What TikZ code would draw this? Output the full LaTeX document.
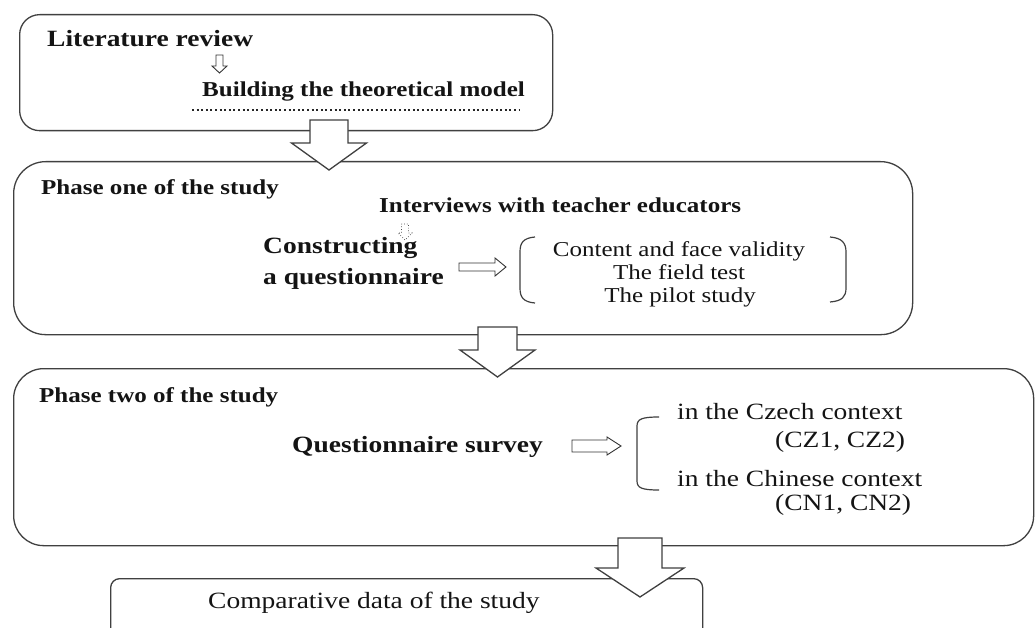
\documentclass[tikz,border=0pt]{standalone}
\usepackage{fontspec}
\setmainfont[FakeStretch=1.18]{Liberation Serif}
\usetikzlibrary{calc}
\begin{document}
\begin{tikzpicture}[x=1pt,y=-1pt,
  boxnode/.style={draw=black!75, line width=1.3pt, inner sep=0pt, anchor=north west},
  txt/.style={inner sep=0pt, anchor=base west, text=black!92},
  ctr/.style={inner sep=0pt, anchor=base, text=black!92},
  bigarrow/.style={draw=black!75, line width=1.3pt, fill=white, line join=miter},
  smallarrow/.style={draw=black!80, line width=0.9pt, fill=white},
  brk/.style={draw=black!75, line width=1.2pt},
  fbA/.style={font=\fontsize{23.3}{27}\selectfont\bfseries},
  fbB/.style={font=\fontsize{21.2}{25}\selectfont\bfseries},
  frA/.style={font=\fontsize{23.3}{27}\selectfont},
  frB/.style={font=\fontsize{21.2}{25}\selectfont}]
\clip (0,0) rectangle (1035,628);
\fill[white] (0,0) rectangle (1035,628);

% boxes
\node[boxnode, rounded corners=20pt, minimum width=533pt, minimum height=116pt] (lit) at (19,14) {};
\node[boxnode, rounded corners=32pt, minimum width=899pt, minimum height=173pt] (ph1) at (13,161) {};
\node[boxnode, rounded corners=30pt, minimum width=1020pt, minimum height=177pt] (ph2) at (13,368) {};
\node[boxnode, rounded corners=9pt, minimum width=592pt, minimum height=80pt] (cmp) at (110,578) {};

% box 1 texts
\node[txt, fbA] (litrev) at (47,47) {Literature review};
\node[txt, fbB] (build) at (202,97) {Building the theoretical model};
\draw[black!85, line width=1.7pt, dash pattern=on 2pt off 2.6pt] (192,110) -- (520,110);
\coordinate (s1) at (219.5,55);
\draw[smallarrow, shift={(s1)}] (-3.5,0) -- (3.5,0) -- (3.5,11) -- (7.5,11) -- (0,18) -- (-7.5,11) -- (-3.5,11) -- cycle;

% phase one texts
\node[txt, fbB] (p1title) at (41,195) {Phase one of the study};
\node[txt, fbB] (interv) at (379,213) {Interviews with teacher educators};
\node[txt, fbA] (constr1) at (263,253) {Constructing};
\node[txt, fbA] (constr2) at (263,284) {a questionnaire};
\coordinate (s2) at (405,224);
\draw[draw=black!70, line width=0.7pt, dotted, shift={(s2)}] (-3.5,0) -- (3.5,0) -- (3.5,9) -- (7,9) -- (0,16) -- (-7,9) -- (-3.5,9) -- cycle;
\coordinate (r1) at (459,267);
\draw[smallarrow, shift={(r1)}] (0,-4) -- (36,-4) -- (36,-9) -- (47,0) -- (36,9) -- (36,4) -- (0,4) -- cycle;
\draw[brk] (535,237) .. controls (523,238) and (520,243) .. (520,252) -- (520,288) .. controls (520,297) and (523,302) .. (535,303);
\draw[brk] (830,237) .. controls (842,238) and (846,243) .. (846,252) -- (846,288) .. controls (846,297) and (842,301) .. (830,302);
\node[ctr, frB] (cv) at (679,256) {Content and face validity};
\node[ctr, frB] (ft) at (679,279) {The field test};
\node[ctr, frB] (ps) at (680,302) {The pilot study};

% phase two texts
\node[txt, fbB] (p2title) at (39,402) {Phase two of the study};
\node[txt, fbA] (qs) at (292,452) {Questionnaire survey};
\coordinate (r2) at (572,446);
\draw[smallarrow, shift={(r2)}] (0,-6) -- (35,-6) -- (35,-9) -- (49,0) -- (35,9) -- (35,6) -- (0,6) -- cycle;
\draw[brk] (659,417) .. controls (642,417) and (637,419) .. (637,426) -- (637,481) .. controls (637,488) and (642,490) .. (659,490);
\node[txt, frA] (cz) at (677,419) {in the Czech context};
\node[txt, frA] (cz2) at (775,447) {(CZ1, CZ2)};
\node[txt, frA] (cn) at (677,486) {in the Chinese context};
\node[txt, frA] (cn2) at (775,510) {(CN1, CN2)};

% comparative
\node[txt, frA] (cmptxt) at (208,608) {Comparative data of the study};

% big arrows between boxes
\coordinate (a1) at (329,120);
\draw[bigarrow, shift={(a1)}] (-19,0) -- (19,0) -- (19,23) -- (37.5,23) -- (0,50) -- (-37.5,23) -- (-19,23) -- cycle;
\coordinate (a2) at (497.5,327);
\draw[bigarrow, shift={(a2)}] (-19.5,0) -- (19.5,0) -- (19.5,23) -- (37.5,23) -- (0,50) -- (-37.5,23) -- (-19.5,23) -- cycle;
\coordinate (a3) at (640,538);
\draw[bigarrow, shift={(a3)}] (-22,0) -- (22,0) -- (22,30) -- (44,30) -- (0,59) -- (-44,30) -- (-22,30) -- cycle;
\end{tikzpicture}
\end{document}
